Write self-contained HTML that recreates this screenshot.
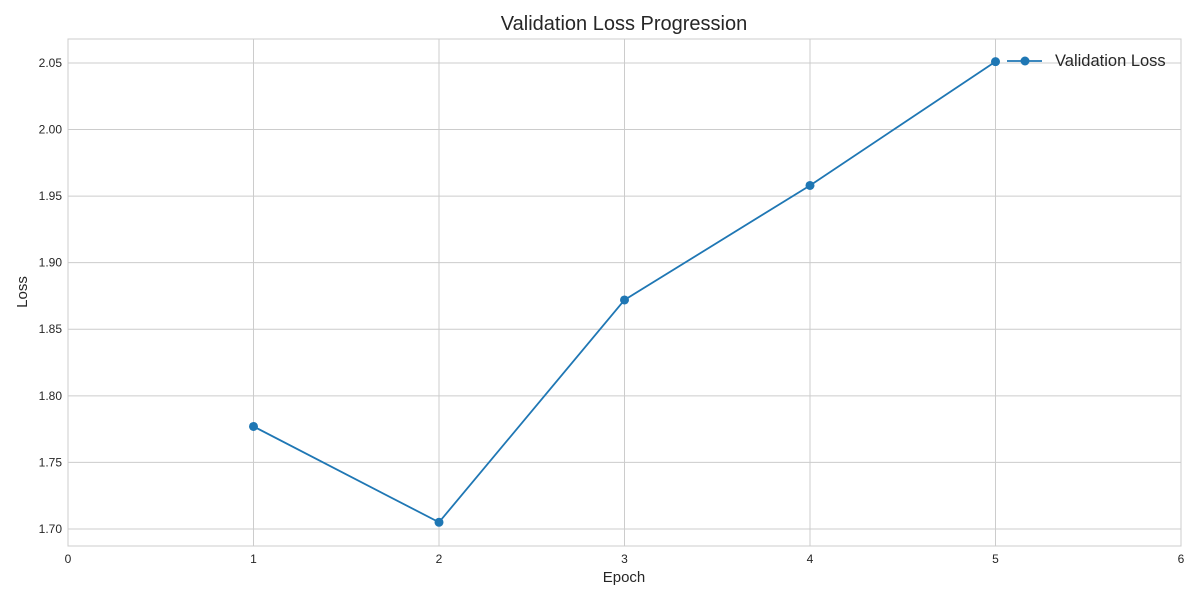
<!DOCTYPE html>
<html><head><meta charset="utf-8"><style>
body{margin:0;background:#fff;font-family:"Liberation Sans","DejaVu Sans",sans-serif;}
</style></head><body>
<svg id="chart" width="1200" height="600" xmlns="http://www.w3.org/2000/svg">
<rect width="1200" height="600" fill="#fff"/>
<text x="624" y="30" text-anchor="middle" font-size="20" fill="#262626">Validation Loss Progression</text>
<g id="grid"></g>
<rect x="68" y="39" width="1113" height="507" fill="none" stroke="#cccccc" stroke-width="1"/>
<g id="ticks"></g>
<text x="624" y="582" text-anchor="middle" font-size="15" fill="#262626">Epoch</text>
<text transform="translate(27,292) rotate(-90)" text-anchor="middle" font-size="15" fill="#262626">Loss</text>
<g id="series"></g>
<g>
<line x1="1007" y1="61" x2="1042" y2="61" stroke="#1f77b4" stroke-width="1.8"/>
<circle cx="1025" cy="61" r="4.5" fill="#1f77b4"/>
<text x="1055" y="66" font-size="16.5" fill="#262626">Validation Loss</text>
</g>
</svg>
<script>
const epochs=[1,2,3,4,5];
const losses=[1.777,1.705,1.872,1.958,2.051];
const xTicks=[0,1,2,3,4,5,6];
const yTicks=[1.70,1.75,1.80,1.85,1.90,1.95,2.00,2.05];
const NS="http://www.w3.org/2000/svg";
const L=68,R=1181,T=39,B=546;
const x=v=>L+(v-0)/(6-0)*(R-L);
const yMin=1.6872,yMax=2.068;
const y=v=>B-(v-yMin)/(yMax-yMin)*(B-T);
function mk(tag,attrs,parent){const e=document.createElementNS(NS,tag);for(const k in attrs)e.setAttribute(k,attrs[k]);parent.appendChild(e);return e;}
const grid=document.getElementById('grid'),ticks=document.getElementById('ticks'),series=document.getElementById('series');
xTicks.forEach(t=>{
 const g=mk('line',{x1:x(t),x2:x(t),y1:T,y2:B,stroke:'#cccccc','stroke-width':1},grid);
 
 
 const tx=mk('text',{x:x(t),y:B+17,'text-anchor':'middle','font-size':12,fill:'#262626'},ticks);
 tx.textContent=t;
 
 
});
yTicks.forEach(t=>{
 const g=mk('line',{x1:L,x2:R,y1:y(t),y2:y(t),stroke:'#cccccc','stroke-width':1},grid);
 
 
 const tx=mk('text',{x:L-6,y:y(t)+4,'text-anchor':'end','font-size':12,fill:'#262626'},ticks);
 tx.textContent=t.toFixed(2);
 
 
});
const pl=mk('polyline',{points:epochs.map((e,i)=>x(e)+','+y(losses[i])).join(' '),fill:'none',stroke:'#1f77b4','stroke-width':1.8},series);


epochs.forEach((e,i)=>{
 const c=mk('circle',{cx:x(e),cy:y(losses[i]),r:4.5,fill:'#1f77b4'},series);
 
 
});
</script>
</body></html>
